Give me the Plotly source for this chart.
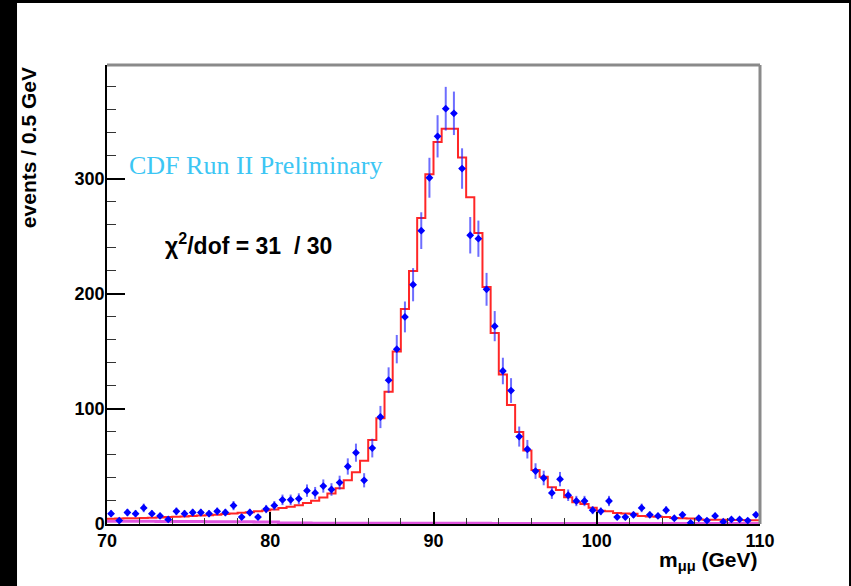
import numpy as np
import plotly.graph_objects as go

# dimuon mass histogram, 80 bins of 0.5 GeV from 70 to 110
bin_lo = np.arange(70.0, 110.0, 0.5)
counts = [9, 3, 10, 9, 14, 9, 7, 4, 11, 9,
          10, 10, 9, 11, 10, 16, 6, 10, 6, 13,
          16, 21, 21, 22, 29, 27, 33, 30, 36, 50,
          62, 38, 66, 93, 125, 152, 180, 208, 255, 301,
          337, 361, 357, 309, 251, 248, 204, 172, 133, 116,
          76, 65, 46, 40, 27, 39, 25, 20, 20, 12,
          11, 20, 6, 6, 8, 14, 8, 7, 12, 5,
          8, 1, 5, 3, 7, 2, 4, 4, 3, 8]
fit = [4.5, 4.7, 4.9, 5.1, 5.3, 5.5, 5.7, 6.0, 6.3, 6.6,
       6.9, 7.3, 7.7, 8.1, 8.6, 9.1, 9.7, 10.3, 11.0, 11.8,
       12.7, 13.8, 15.0, 16.4, 18.2, 20.3, 23.0, 26.5, 31.0, 38.0,
       45.0, 55.0, 73.0, 92.0, 115.0, 150.0, 187.0, 220.0, 266.0, 304.0,
       332.0, 343.5, 343.5, 318.5, 284.0, 253.0, 206.0, 166.0, 130.0, 103.5,
       80.0, 64.0, 47.0, 41.0, 32.0, 29.6, 23.2, 18.8, 17.4, 14.2,
       11.5, 11.0, 9.5, 9.2, 9.0, 7.0, 6.6, 6.3, 6.0, 5.2,
       5.0, 4.8, 4.0, 3.8, 3.7, 3.6, 3.5, 3.4, 3.3, 3.2]
bkg = [2.4, 2.4, 2.4, 2.3, 2.3, 2.3, 2.2, 2.2, 2.2, 2.1,
       2.1, 2.1, 2.0, 2.0, 2.0, 1.9, 1.9, 1.9, 1.8, 1.8,
       1.8, 0.8, 0.8, 0.8, 0.8, 0.7, 0.7, 0.7, 0.7, 0.7,
       0.7, 0.7, 0.6, 0.6, 0.6, 0.6, 0.6, 0.6, 0.6, 0.6,
       0.6, 0.6, 0.6, 0.6, 0.6, 0.6, 0.6, 0.5, 0.5, 0.5,
       0.5, 0.5, 0.5, 0.5, 0.5, 0.5, 0.5, 0.5, 0.5, 0.5,
       0.5, 0.5, 0.5, 0.5, 0.5, 0.5, 0.5, 0.5, 0.5, 0.5,
       0.5, 0.5, 0.5, 0.5, 0.5, 0.5, 0.5, 0.5, 0.5, 0.5]

centers = bin_lo + 0.25
edges = list(bin_lo) + [110.0]
err = np.sqrt(counts)

fig = go.Figure()

fig.add_trace(go.Scatter(x=edges, y=bkg + [bkg[-1]], mode='lines',
                         line=dict(color='#e055e0', width=3, shape='hv'),
                         hoverinfo='skip'))
fig.add_trace(go.Scatter(x=edges, y=fit + [fit[-1]], mode='lines',
                         line=dict(color='rgba(255,0,0,0.85)', width=2, shape='hv'),
                         hoverinfo='skip'))
fig.add_trace(go.Scatter(x=centers, y=counts, mode='markers',
                         marker=dict(symbol='diamond', size=6, color='#0000ff'),
                         error_y=dict(type='data', array=err, thickness=2, width=0,
                                      color='rgba(30,30,255,0.65)'),
                         error_x=dict(type='constant', value=0.16, thickness=2, width=0,
                                      color='rgba(30,30,255,0.8)')))

tick_font = dict(family='Liberation Sans, Arial, sans-serif', size=18,
                 color='black', weight='bold')

fig.update_xaxes(range=[70, 110], tick0=70, dtick=10, ticks='inside', ticklen=12,
                 tickwidth=1.5, tickcolor='black', tickfont=tick_font,
                 showline=True, linecolor='black', linewidth=1.5, showgrid=False,
                 zeroline=False,
                 minor=dict(ticks='inside', dtick=2, ticklen=6, tickwidth=1.2,
                            tickcolor='#333333', showgrid=False))
fig.update_yaxes(range=[0, 399], tick0=0, dtick=100, ticks='inside', ticklen=18,
                 tickwidth=1.5, tickcolor='black', tickfont=tick_font,
                 ticklabelstandoff=-3,
                 showline=True, linecolor='black', linewidth=1.5, showgrid=False,
                 zeroline=False,
                 minor=dict(ticks='inside', dtick=20, ticklen=9, tickwidth=1.2,
                            tickcolor='#333333', showgrid=False))

# frame: grey top and right edges, black outer border of the canvas
shapes = [
    dict(type='line', xref='paper', yref='paper', x0=0, x1=1, y0=1, y1=1,
         line=dict(color='#8a8a8a', width=3)),
    dict(type='line', xref='paper', yref='paper', x0=1, x1=1, y0=0, y1=1,
         line=dict(color='#8a8a8a', width=3)),
    dict(type='rect', xref='paper', yref='paper', x0=-0.1639, x1=-0.1378,
         y0=-0.14, y1=1.145, fillcolor='black', line=dict(width=0)),
    dict(type='rect', xref='paper', yref='paper', x0=-0.1639, x1=1.14,
         y0=1.1351, y1=1.145, fillcolor='black', line=dict(width=0)),
    dict(type='rect', xref='paper', yref='paper', x0=1.1363, x1=1.14,
         y0=-0.14, y1=1.145, fillcolor='black', line=dict(width=0)),
]

annotations = [
    dict(text='CDF Run II Preliminary', xref='paper', yref='paper',
         x=0.0306, y=0.780, xanchor='left', yanchor='middle', showarrow=False,
         font=dict(family='Liberation Serif, Times New Roman, serif', size=26,
                   color='#3cc6f4')),
    dict(text='χ<sup>2</sup>/dof = 31  / 30', xref='paper', yref='paper',
         x=0.0858, y=0.610, xanchor='left', yanchor='middle', showarrow=False,
         font=dict(family='Liberation Sans, Arial, sans-serif', size=23,
                   color='black', weight='bold')),
    dict(text='events / 0.5 GeV', xref='paper', yref='paper',
         x=-0.121, y=0.821, xanchor='center', yanchor='middle', textangle=-90,
         showarrow=False,
         font=dict(family='Liberation Sans, Arial, sans-serif', size=21,
                   color='black', weight='bold')),
    dict(text='m<sub>μμ</sub> (GeV)', xref='paper', yref='paper',
         x=1.0, y=-0.08, xanchor='right', yanchor='middle', showarrow=False,
         font=dict(family='Liberation Sans, Arial, sans-serif', size=21,
                   color='black', weight='bold')),
]

fig.update_layout(width=851, height=586,
                  margin=dict(l=107, r=91, t=65, b=62),
                  paper_bgcolor='white', plot_bgcolor='white',
                  showlegend=False, shapes=shapes, annotations=annotations)

# drop the browser's default 8px body margin so the canvas sits at 0,0
fig.write_html("out.html", config={'displayModeBar': False},
               post_script="document.body.style.margin='0';")
